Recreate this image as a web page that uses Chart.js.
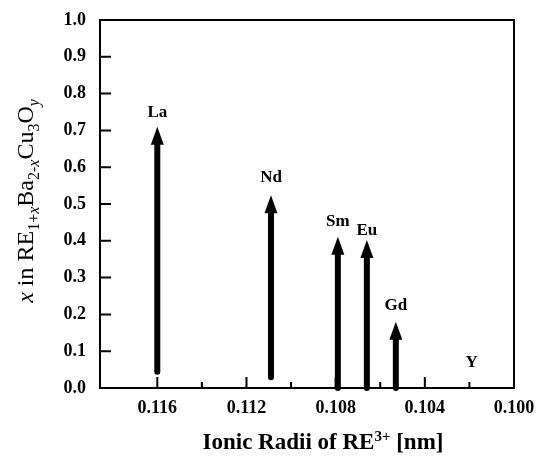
<!DOCTYPE html>
<html>
<head>
<meta charset="utf-8">
<script src="https://cdn.jsdelivr.net/npm/chart.js@4"></script>
<style>
  html, body { margin: 0; padding: 0; background: #fff; }
  #wrap { width: 542px; height: 459px; }
</style>
</head>
<body>
<div id="wrap"><canvas id="radiiChart" width="542" height="459"></canvas></div>
<script>
// datos
const elementos = ['La', 'Nd', 'Sm', 'Eu', 'Gd', 'Y'];
const radios = [0.1160, 0.1109, 0.1079, 0.1066, 0.1053, 0.1019];
const xInicio = [0.044, 0.029, 0.0, 0.0, 0.0, null];   // base de la flecha
const xFin = [0.710, 0.524, 0.411, 0.402, 0.180, null]; // punta de la flecha
const etiquetaY = [0.748, 0.573, 0.452, 0.427, 0.223, 0.068];

const ticksX = [0.116, 0.112, 0.108, 0.104, 0.100];
const ticksXMenores = [0.114, 0.110, 0.106, 0.102];
const ticksY = [0, 0.1, 0.2, 0.3, 0.4, 0.5, 0.6, 0.7, 0.8, 0.9, 1.0];

const serif = '"Liberation Serif", "Times New Roman", serif';

// flechas, marcos, ticks interiores y titulos de ejes
const dibujoPlugin = {
  id: 'dibujo',
  afterDatasetsDraw(chart) {
    const ctx = chart.ctx;
    const { x, y } = chart.scales;
    const area = chart.chartArea;
    ctx.save();

    // flechas
    ctx.fillStyle = '#000';
    ctx.strokeStyle = '#000';
    elementos.forEach((el, i) => {
      if (xFin[i] === null) return;
      const px = x.getPixelForValue(radios[i]);
      const yBase = y.getPixelForValue(xInicio[i]);
      const yTip = y.getPixelForValue(xFin[i]);
      const headH = 18, headW = 13;
      ctx.lineWidth = 6;
      ctx.lineCap = 'round';
      ctx.beginPath();
      ctx.moveTo(px, yBase);
      ctx.lineTo(px, yTip + headH - 2);
      ctx.stroke();
      ctx.beginPath();
      ctx.moveTo(px, yTip);
      ctx.lineTo(px - headW / 2, yTip + headH);
      ctx.lineTo(px + headW / 2, yTip + headH);
      ctx.closePath();
      ctx.fill();
    });

    // etiquetas
    ctx.font = 'bold 17px ' + serif;
    ctx.textAlign = 'center';
    ctx.textBaseline = 'middle';
    elementos.forEach((el, i) => {
      ctx.fillText(el, x.getPixelForValue(radios[i]), y.getPixelForValue(etiquetaY[i]));
    });

    // marco
    ctx.lineWidth = 2;
    ctx.lineCap = 'butt';
    ctx.strokeRect(area.left, area.top, area.right - area.left, area.bottom - area.top);

    // ticks hacia dentro
    ctx.beginPath();
    ticksY.forEach(v => {
      const py = y.getPixelForValue(v);
      ctx.moveTo(area.left, py);
      ctx.lineTo(area.left + 11, py);
    });
    ticksX.forEach(v => {
      const px = x.getPixelForValue(v);
      ctx.moveTo(px, area.bottom);
      ctx.lineTo(px, area.bottom - 11);
    });
    ticksXMenores.forEach(v => {
      const px = x.getPixelForValue(v);
      ctx.moveTo(px, area.bottom);
      ctx.lineTo(px, area.bottom - 6);
    });
    ctx.stroke();

    // titulo eje x
    const partesX = [
      { t: 'Ionic Radii of RE', f: 'bold 23px ' + serif, dy: 0 },
      { t: '3+', f: 'bold 15px ' + serif, dy: -8 },
      { t: ' [nm]', f: 'bold 23px ' + serif, dy: 0 }
    ];
    dibujarPartes(ctx, partesX, 323, 449, 0);

    // titulo eje y
    const fn = (s, it) => (it ? 'italic ' : '') + s + 'px ' + serif;
    const partesY = [
      { t: 'x', f: fn(24, true), dy: 0 },
      { t: ' in RE', f: fn(24), dy: 0 },
      { t: '1+', f: fn(16), dy: 6 },
      { t: 'x', f: fn(16, true), dy: 6 },
      { t: 'Ba', f: fn(24), dy: 0 },
      { t: '2-', f: fn(16), dy: 6 },
      { t: 'x', f: fn(16, true), dy: 6 },
      { t: 'Cu', f: fn(24), dy: 0 },
      { t: '3', f: fn(16), dy: 6 },
      { t: 'O', f: fn(24), dy: 0 },
      { t: 'y', f: fn(16, true), dy: 6 }
    ];
    dibujarPartes(ctx, partesY, 33, 201, -Math.PI / 2);

    ctx.restore();
  }
};

function dibujarPartes(ctx, partes, cx, cy, rot) {
  ctx.save();
  ctx.translate(cx, cy);
  ctx.rotate(rot);
  ctx.textBaseline = 'alphabetic';
  ctx.textAlign = 'left';
  let total = 0;
  partes.forEach(p => { ctx.font = p.f; total += ctx.measureText(p.t).width; });
  let pos = -total / 2;
  partes.forEach(p => {
    ctx.font = p.f;
    ctx.fillText(p.t, pos, p.dy);
    pos += ctx.measureText(p.t).width;
  });
  ctx.restore();
}

const ctx = document.getElementById('radiiChart').getContext('2d');
const radiiChart = new Chart(ctx, {
  type: 'scatter',
  data: {
    datasets: [{
      data: elementos.map((el, i) => ({ x: radios[i], y: xFin[i] === null ? etiquetaY[i] : xFin[i] })),
      pointRadius: 0,
      showLine: false
    }]
  },
  options: {
    responsive: false,
    animation: false,
    layout: { padding: { left: 0, top: 20, right: 28, bottom: 0 } },
    plugins: { legend: { display: false }, tooltip: { enabled: false } },
    scales: {
      x: {
        type: 'linear',
        reverse: true,
        min: 0.1000,
        max: 0.11857,
        afterBuildTicks: s => { s.ticks = ticksX.map(v => ({ value: v })); },
        afterFit: s => { s.height = 71; },
        grid: { display: false, drawTicks: false },
        border: { display: false },
        ticks: {
          color: '#000',
          padding: 7,
          maxRotation: 0,
          font: { family: serif, size: 18, weight: 'bold', lineHeight: 1.5 },
          callback: v => v.toFixed(3)
        }
      },
      y: {
        min: 0,
        max: 1.0,
        afterBuildTicks: s => { s.ticks = ticksY.map(v => ({ value: v })); },
        afterFit: s => { s.width = 100; },
        grid: { display: false, drawTicks: false },
        border: { display: false },
        ticks: {
          color: '#000',
          padding: 14,
          font: { family: serif, size: 18, weight: 'bold', lineHeight: 0.6 },
          callback: v => v.toFixed(1)
        }
      }
    }
  },
  plugins: [dibujoPlugin]
});
</script>
</body>
</html>
